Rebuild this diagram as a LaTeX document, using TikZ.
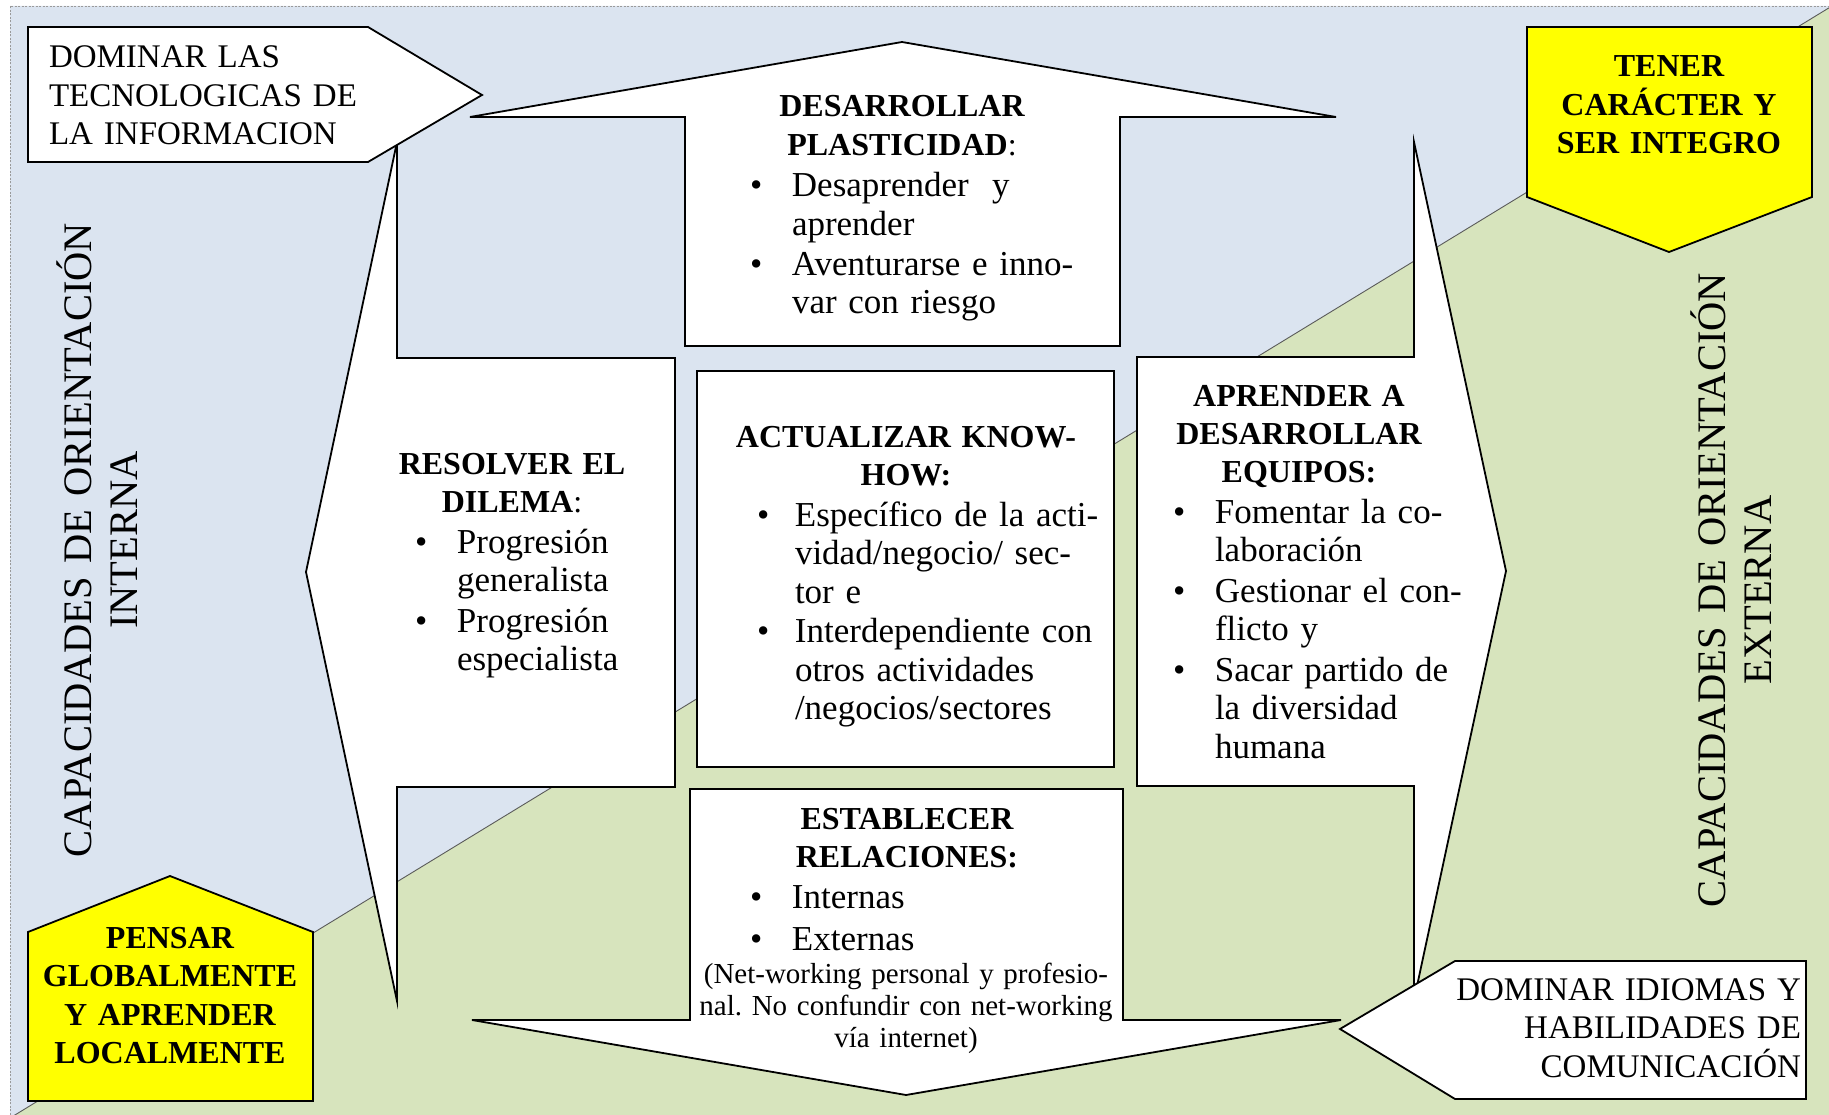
\documentclass[tikz,border=0pt]{standalone}
\usepackage{fontspec}
\setmainfont{Liberation Serif}
\frenchspacing

\definecolor{bgblue}{HTML}{DBE4F0}
\definecolor{bggreen}{HTML}{D7E4BD}
\definecolor{hlyellow}{HTML}{FFFF00}
\definecolor{framegray}{HTML}{9A9A9A}
\definecolor{splitgray}{HTML}{5A5A5A}

% type sizes (1pt = one unit of the drawing)
\newcommand\fsCaps{\fontsize{33}{38.5}\selectfont}
\newcommand\fsHead{\fontsize{32}{38.5}\selectfont\bfseries}
\newcommand\fsBody{\fontsize{35}{38.5}\selectfont}
\newcommand\fsNote{\fontsize{29}{32}\selectfont}
\newcommand\fsSide{\fontsize{40.5}{46}\selectfont}
% bullet line and continuation line of a list
\newcommand\bul[2][42pt]{\makebox[#1][l]{\textbullet}#2}
\newcommand\cnt[2][42pt]{\hspace*{#1}#2}

\begin{document}
\begin{tikzpicture}[x=1pt,y=-1pt,
  outline/.style={draw=black,line width=1.8pt,line join=miter},
  whiteshape/.style={outline,fill=white},
  yellowshape/.style={outline,fill=hlyellow},
  txt/.style={inner sep=0pt,outer sep=0pt,font=\fsCaps,text=black,text width=620pt},
  head/.style={txt,align=center,anchor=base,font=\fsHead},
  items/.style={txt,align=left,anchor=base west,font=\fsBody},
  side/.style={inner sep=0pt,outer sep=0pt,font=\fsSide,align=center,
               anchor=base,rotate=90,text width=760pt}
]
\useasboundingbox (0,0) rectangle (1829,1115);

% background: inner (blue) and outer (green) halves
\fill[white] (0,0) rectangle (1829,1115);
\fill[bgblue] (10,6) -- (1832,6) -- (10,1118) -- cycle;
\fill[bggreen] (1832,6) -- (1832,1118) -- (10,1118) -- cycle;
\draw[splitgray,line width=0.9pt] (10,1118) -- (1832,6);
\draw[framegray,line width=0.9pt,dash pattern=on 2pt off 1.5pt] (10,1118) -- (10,6) -- (1832,6);

% four big arrows
\draw[whiteshape] (685,346) -- (685,117) -- (470,117) -- (902,42) -- (1336,117)
  -- (1120,117) -- (1120,346) -- cycle;
\draw[whiteshape] (675,358) -- (397,358) -- (397,142) -- (306,572) -- (397,1001)
  -- (397,787) -- (675,787) -- cycle;
\draw[whiteshape] (1137,357) -- (1414,357) -- (1414,142) -- (1506,571) -- (1414,1000)
  -- (1414,786) -- (1137,786) -- cycle;
\draw[whiteshape] (690,789) -- (1123,789) -- (1123,1020) -- (1341,1020) -- (906,1095)
  -- (472,1020) -- (690,1020) -- cycle;

% central box
\draw[whiteshape] (697,371) rectangle (1114,767);

% corner tags
\draw[whiteshape] (28,27) -- (368,27) -- (482,95) -- (368,162) -- (28,162) -- cycle;
\draw[yellowshape] (1527,27) -- (1812,27) -- (1812,197) -- (1669,252) -- (1527,197) -- cycle;
\draw[yellowshape] (28,932) -- (170,876) -- (313,932) -- (313,1101) -- (28,1101) -- cycle;
\draw[whiteshape] (1340,1029) -- (1455,961) -- (1806,961) -- (1806,1099) -- (1455,1099) -- cycle;

% corner texts
\node[txt,align=left,anchor=base west] (infoT) at (49,68)
  {DOMINAR LAS\\TECNOLOGICAS DE\\LA INFORMACION};
\node[head] (caract) at (1669,77)
  {TENER\\CARÁCTER Y\\SER INTEGRO};
\node[head] (pensar) at (170,948)
  {PENSAR\\GLOBALMENTE\\Y APRENDER\\LOCALMENTE};
\node[txt,align=right,anchor=base east] (idiomas) at (1801,1000)
  {DOMINAR IDIOMAS Y\\HABILIDADES DE\\COMUNICACIÓN};

% top arrow
\node[head] (plastH) at (902,117)
  {DESARROLLAR\\PLASTICIDAD{\mdseries:}};
\node[items] (plastL) at (750,197)
  {\bul{Desaprender\ \ y}\\
   \cnt{aprender}\\[1.5pt]
   \bul{Aventurarse e inno-}\\
   \cnt{var con riesgo}};

% left arrow
\node[head] (dilemaH) at (512,474)
  {RESOLVER EL\\DILEMA{\mdseries:}};
\node[items] (dilemaL) at (415,553)
  {\bul{Progresión}\\
   \cnt{generalista}\\[2pt]
   \bul{Progresión}\\
   \cnt{especialista}};

% central box
\node[head] (knowH) at (906,447)
  {ACTUALIZAR KNOW-\\HOW:};
\node[items] (knowL) at (757,526)
  {\bul[38pt]{Específico de la acti-}\\
   \cnt[38pt]{vidad/negocio/ sec-}\\
   \cnt[38pt]{tor e}\\[1pt]
   \bul[38pt]{Interdependiente con}\\
   \cnt[38pt]{otros actividades}\\
   \cnt[38pt]{/negocios/sectores}};

% right arrow
\node[head] (equipH) at (1299,406)
  {APRENDER A\\DESARROLLAR\\EQUIPOS:};
\node[items] (equipL) at (1173,523)
  {\bul{Fomentar la co-}\\
   \cnt{laboración}\\[2pt]
   \bul{Gestionar el con-}\\
   \cnt{flicto y}\\[2pt]
   \bul{Sacar partido de}\\
   \cnt{la diversidad}\\
   \cnt{humana}};

% bottom arrow
\node[head] (relH) at (907,829)
  {ESTABLECER\\RELACIONES:};
\node[items] (relL) at (750,908)
  {\bul{Internas}\\[3.5pt]
   \bul{Externas}};
\node[txt,font=\fsNote,align=center,anchor=base] (relN) at (906,983)
  {(Net-working personal y profesio-\\nal. No confundir con net-working\\vía internet)};

% side captions
\node[side] (interna) at (91,540)
  {CAPACIDADES DE ORIENTACIÓN\\INTERNA};
\node[side] (externa) at (1725,590)
  {CAPACIDADES DE ORIENTACIÓN\\EXTERNA};
\end{tikzpicture}
\end{document}
